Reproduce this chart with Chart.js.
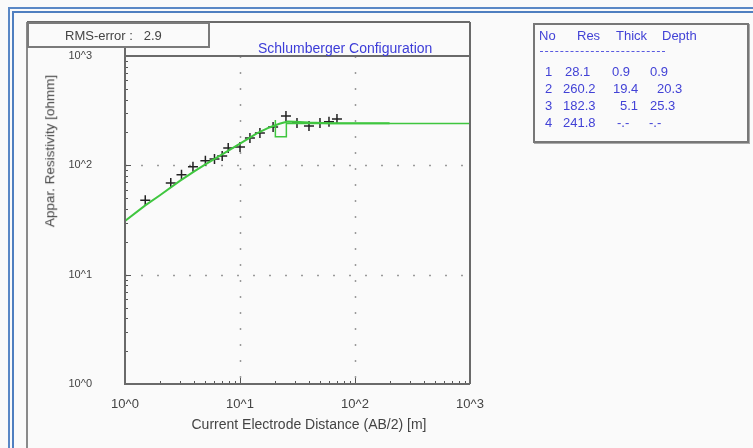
<!DOCTYPE html>
<html>
<head>
<meta charset="utf-8">
<script src="https://cdn.jsdelivr.net/npm/chart.js@4.4.1/dist/chart.umd.min.js"></script>
<style>
  html, body { margin: 0; padding: 0; background: #fafafa; }
  #wrap { position: relative; width: 753px; height: 448px; overflow: hidden;
          font-family: "Liberation Sans", Arial, sans-serif; }
  #c { position: absolute; left: 0; top: 0; }
  .t { position: absolute; white-space: pre; line-height: 1; }
  #rms { left: 27px; top: 22px; width: 179px; height: 22px; border: 2px solid #7a7a7a;
         box-sizing: content-box; background: #fafafa; }
  #rmsText { left: 36px; top: 5px; font-size: 13px; color: #444; }
  #title { left: 258px; top: 41px; font-size: 14px; color: #3c3cd8; }
  #ytitle { left: 50px; top: 151px; font-size: 13.5px; color: #444;
            transform: translate(-50%, -50%) rotate(-90deg); }
  #xtitle { left: 309px; top: 424px; font-size: 14px; color: #444;
            transform: translate(-50%, -50%); }
  #layers { left: 533px; top: 23px; width: 212px; height: 116px; border: 2px solid #777;
            box-shadow: 1px 1px 0 #aaa; background: #fafafa; }
  #layers .t { font-size: 13px; color: #4242d6; }
  #rule { left: 5px; top: 26px; width: 125px; height: 0; border-top: 1px dashed #5a5ae0; }
</style>
</head>
<body>
<div id="wrap">
  <canvas id="c" width="753" height="448"></canvas>
  <div class="t" id="rms"><div class="t" id="rmsText">RMS-error :   2.9</div></div>
  <div class="t" id="title">Schlumberger Configuration</div>
  <div class="t" id="ytitle">Appar. Resistivity [ohmm]</div>
  <div class="t" id="xtitle">Current Electrode Distance (AB/2) [m]</div>
  <div class="t" id="layers"><div class="t" id="rule"></div></div>
</div>
<script>
// Field sounding: half electrode spacing AB/2 [m] and apparent resistivity [ohm m]
const spacing     = [1.5, 2.5, 3.1, 3.9, 5.0, 6.0, 7.0, 7.9, 10, 12.2, 14.9, 19.4, 25.1, 31.3, 39.8, 49.6, 59.4, 69.7];
const measuredRho = [48, 69, 82, 97, 110, 114, 122, 144, 147, 178, 198, 224, 283, 244, 229, 244, 250, 266];

// Computed response of the fitted layered model
const modelSpacing = [1, 1.5, 2, 3, 4, 5, 7, 10, 14, 18, 22, 26, 30, 40, 60, 100, 200];
const modelRho     = [31, 43, 53, 72, 88, 102, 126, 158, 196, 222, 240, 252, 250, 246, 243, 242, 242];

// Inverted layer model
const layerNo    = ['1', '2', '3', '4'];
const layerRes   = [28.1, 260.2, 182.3, 241.8];
const layerThick = [0.9, 19.4, 5.1];
const layerDepth = [0.9, 20.3, 25.3];
const rmsError   = 2.9;

// Axis ranges and decade labels
const axisMin = 1, axisMax = 1000;
const decadeLabels = ['10^0', '10^1', '10^2', '10^3'];

// Step curve of the lower layers (from the second interface downwards)
const stepPoints = [];
for (let i = 1; i < layerDepth.length; i++) {
  stepPoints.push({ x: layerDepth[i], y: layerRes[i] });
  stepPoints.push({ x: layerDepth[i], y: layerRes[i + 1] });
}
stepPoints.push({ x: axisMax, y: layerRes[layerRes.length - 1] });

// Layer table (text boxes)
const fmt = v => (v === undefined ? '-.-' : String(v));
const tbl = document.getElementById('layers');
function cell(txt, x, y) {
  const d = document.createElement('div');
  d.className = 't'; d.textContent = txt;
  d.style.left = x + 'px'; d.style.top = y + 'px';
  tbl.appendChild(d);
}
cell('No', 4, 4); cell('Res', 42, 4); cell('Thick', 81, 4); cell('Depth', 127, 4);
const rowY = [40, 57, 74, 91];
const resX = [30, 28, 28, 28], thX = [77, 78, 85, 82], dpX = [115, 122, 115, 114];
for (let i = 0; i < layerRes.length; i++) {
  cell(layerNo[i], 10, rowY[i]);
  cell(layerRes[i].toFixed(1), resX[i], rowY[i]);
  cell(i < layerThick.length ? layerThick[i].toFixed(1) : fmt(), thX[i], rowY[i]);
  cell(i < layerDepth.length ? layerDepth[i].toFixed(1) : fmt(), dpX[i], rowY[i]);
}
document.getElementById('rmsText').textContent = 'RMS-error :   ' + rmsError.toFixed(1);

const decadeTicks = scale => {
  scale.ticks = [];
  for (let v = axisMin; v <= axisMax; v *= 10) scale.ticks.push({ value: v });
};
const decadeLabel = v => decadeLabels[Math.round(Math.log10(v))];

// Frame, dotted grid and minor ticks drawn around the plot area
const framePlugin = {
  id: 'frame',
  beforeDatasetsDraw(chart) {
    const { ctx, chartArea: a, scales: { x, y } } = chart;
    ctx.save();
    ctx.strokeStyle = '#9a9a9a';
    ctx.lineWidth = 1.5;
    ctx.setLineDash([2, 14]);
    for (let v = axisMin * 10; v < axisMax; v *= 10) {
      const px = Math.round(x.getPixelForValue(v)) + 0.5;
      ctx.beginPath(); ctx.moveTo(px, a.top); ctx.lineTo(px, a.bottom); ctx.stroke();
      const py = Math.round(y.getPixelForValue(v)) + 0.5;
      ctx.beginPath(); ctx.moveTo(a.left, py); ctx.lineTo(a.right, py); ctx.stroke();
    }
    ctx.restore();
  },
  afterDatasetsDraw(chart) {
    const { ctx, chartArea: a, scales: { x, y } } = chart;
    ctx.save();
    // minor / major ticks pointing inward
    ctx.strokeStyle = '#555';
    ctx.lineWidth = 1;
    for (let d = axisMin; d < axisMax; d *= 10) {
      for (let k = 1; k < 10; k++) {
        const v = d * k;
        const len = k === 1 ? 6 : 3;
        const px = Math.round(x.getPixelForValue(v)) + 0.5;
        ctx.beginPath(); ctx.moveTo(px, a.bottom); ctx.lineTo(px, a.bottom - len); ctx.stroke();
        const py = Math.round(y.getPixelForValue(v)) + 0.5;
        ctx.beginPath(); ctx.moveTo(a.left, py); ctx.lineTo(a.left + len, py); ctx.stroke();
      }
    }
    // plot frame and title strip
    ctx.strokeStyle = '#6a6a6a';
    ctx.lineWidth = 2;
    ctx.beginPath();
    ctx.moveTo(27, 22); ctx.lineTo(a.right, 22);
    ctx.moveTo(a.left, a.top); ctx.lineTo(a.right, a.top);
    ctx.moveTo(a.right, 22); ctx.lineTo(a.right, a.bottom);
    ctx.moveTo(a.left, 22); ctx.lineTo(a.left, a.bottom);
    ctx.lineTo(a.right, a.bottom);
    ctx.stroke();
    ctx.strokeStyle = '#8a8a8a';
    ctx.beginPath(); ctx.moveTo(27, 22); ctx.lineTo(27, 448); ctx.stroke();
    // outer blue double border
    ctx.strokeStyle = '#5a88c6';
    ctx.lineWidth = 2;
    ctx.beginPath(); ctx.moveTo(9, 448); ctx.lineTo(9, 8); ctx.lineTo(753, 8); ctx.stroke();
    ctx.strokeStyle = '#4f7fc0';
    ctx.beginPath(); ctx.moveTo(13, 448); ctx.lineTo(13, 12); ctx.lineTo(753, 12); ctx.stroke();
    ctx.restore();
  }
};

new Chart(document.getElementById('c'), {
  type: 'scatter',
  data: {
    datasets: [
      {
        data: modelSpacing.map((s, i) => ({ x: s, y: modelRho[i] })),
        showLine: true, pointRadius: 0, borderColor: '#3fc63f', borderWidth: 2, tension: 0
      },
      {
        data: stepPoints,
        showLine: true, pointRadius: 0, borderColor: '#3fc63f', borderWidth: 1.5, tension: 0
      },
      {
        data: spacing.map((s, i) => ({ x: s, y: measuredRho[i] })),
        showLine: false, pointStyle: 'cross', pointRadius: 5,
        borderColor: '#222', borderWidth: 1.5, backgroundColor: '#222'
      }
    ]
  },
  options: {
    responsive: false,
    animation: false,
    layout: { padding: { left: 0, top: 56, right: 283, bottom: 0 } },
    plugins: { legend: { display: false }, tooltip: { enabled: false } },
    scales: {
      x: {
        type: 'logarithmic', min: axisMin, max: axisMax,
        afterBuildTicks: decadeTicks,
        afterFit: s => { s.height = 64; },
        grid: { display: false, drawTicks: false },
        border: { display: false },
        ticks: {
          callback: decadeLabel, maxRotation: 0, autoSkip: false, padding: 13,
          color: '#444', font: { family: '"Liberation Sans", Arial, sans-serif', size: 13 }
        }
      },
      y: {
        type: 'logarithmic', min: axisMin, max: axisMax,
        afterBuildTicks: decadeTicks,
        afterFit: s => { s.width = 125; },
        grid: { display: false, drawTicks: false },
        border: { display: false },
        ticks: {
          callback: decadeLabel, autoSkip: false, padding: 33,
          color: '#444', font: { family: '"Liberation Sans", Arial, sans-serif', size: 11 }
        }
      }
    }
  },
  plugins: [framePlugin]
});
</script>
</body>
</html>
